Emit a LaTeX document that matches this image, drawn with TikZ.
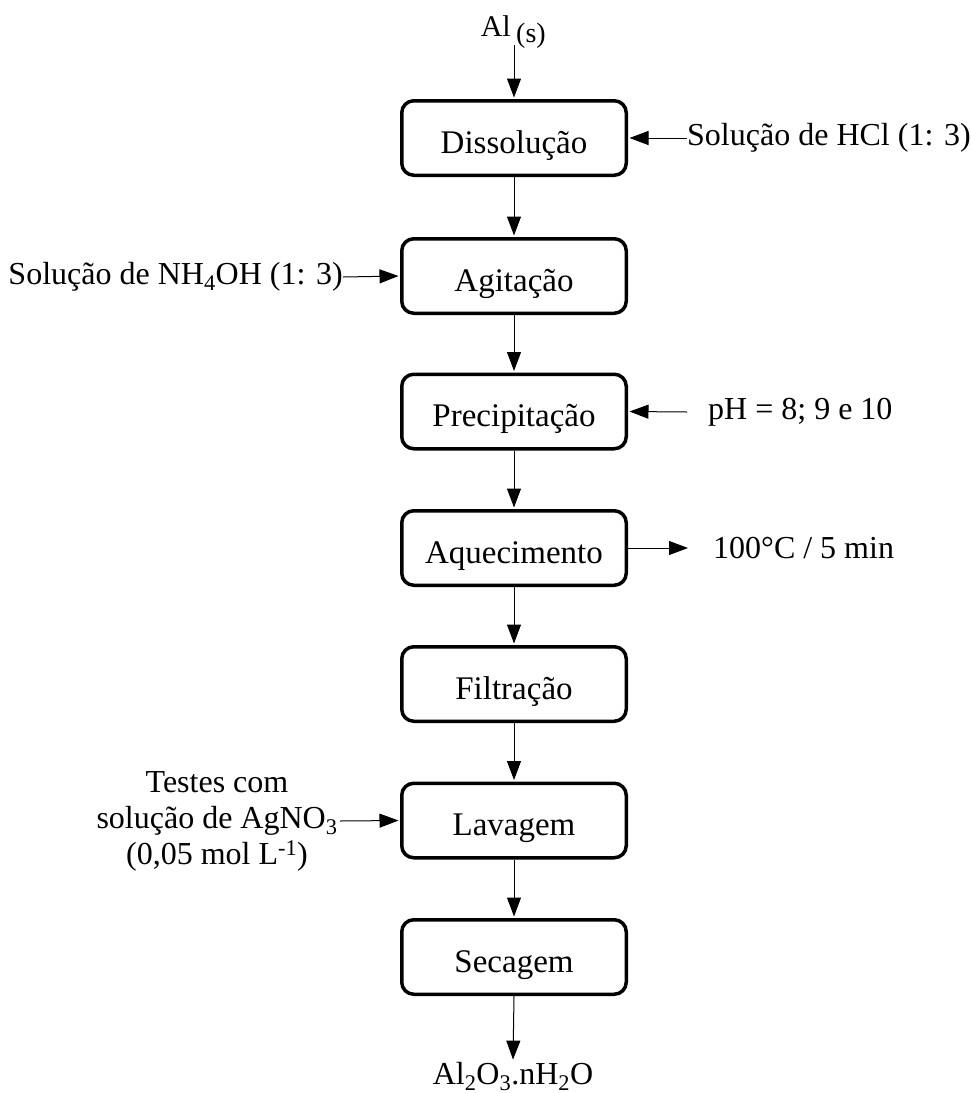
\documentclass[tikz,border=0pt]{standalone}
\usepackage{fontspec}
\setmainfont{Liberation Serif}
\usetikzlibrary{arrows.meta}
\begin{document}
\begin{tikzpicture}[x=1pt,y=-1pt,
  stepbox/.style={draw, line width=3.5pt, rounded corners=12pt, minimum width=224.5pt, minimum height=74.5pt, font=\fontsize{33}{40}\selectfont, inner sep=0pt, text height=30pt, text depth=0pt},
  lbl/.style={font=\fontsize{32}{38}\selectfont, inner sep=0pt},
  arr/.style={line width=1pt, -{Triangle[length=19pt,width=14pt]}, shorten >=1.5pt}]
\useasboundingbox (0,0) rectangle (970,1093);
\node[stepbox] (b1) at (514,138) {Dissolução};
\node[stepbox] (b2) at (514,276) {Agitação};
\node[stepbox] (b3) at (514,411.5) {Precipitação};
\node[stepbox] (b4) at (514,548) {Aquecimento};
\node[stepbox] (b5) at (514,684) {Filtração};
\node[stepbox] (b6) at (514,820.5) {Lavagem};
\node[stepbox] (b7) at (514,957) {Secagem};
\foreach \a/\b in {b1/b2,b2/b3,b3/b4,b4/b5,b5/b6,b6/b7}
  \draw[arr] (\a.south) -- (\b.north);
% top input
\node[font=\fontsize{30}{34}\selectfont, inner sep=0pt, anchor=base east] (al) at (511,36) {Al};
\node[font=\fontsize{28}{32}\selectfont, inner sep=0pt, anchor=base west] (als) at (516,42) {(s)};
\coordinate (alin) at (514,45);
\draw[arr] (alin) -- (b1.north);
% bottom output
\node[lbl, anchor=base] (prod) at (513,1084) {Al\textsubscript{2}O\textsubscript{3}.nH\textsubscript{2}O};
\draw[arr, shorten >=2pt] (b7.south) -- (prod.north);
% side labels
\node[lbl, anchor=west] (hcl) at (687,138) {Solução de HCl (1: 3)};
\draw[arr] (hcl.west) -- (b1.east);
\node[lbl, anchor=east] (nh) at (343,277) {Solução de NH\textsubscript{4}OH (1: 3)};
\draw[arr] (nh.east) -- (b2.west);
\node[lbl, anchor=west] (ph) at (708,412) {pH = 8; 9 e 10};
\coordinate (phs) at (687,412);
\draw[arr] (phs) -- (b3.east);
\node[lbl, anchor=west] (temp) at (713,548) {100°C / 5 min};
\coordinate (tempe) at (688,548);
\draw[arr, shorten >=0pt] (b4.east) -- (tempe);
\node[lbl, align=center, font=\fontsize{32}{36}\selectfont] (ag) at (217,821) {Testes com\\solução de AgNO\textsubscript{3}\\(0,05 mol L\textsuperscript{-1})};
\coordinate (ags) at (340,821);
\draw[arr] (ags) -- (b6.west);
\end{tikzpicture}
\end{document}
